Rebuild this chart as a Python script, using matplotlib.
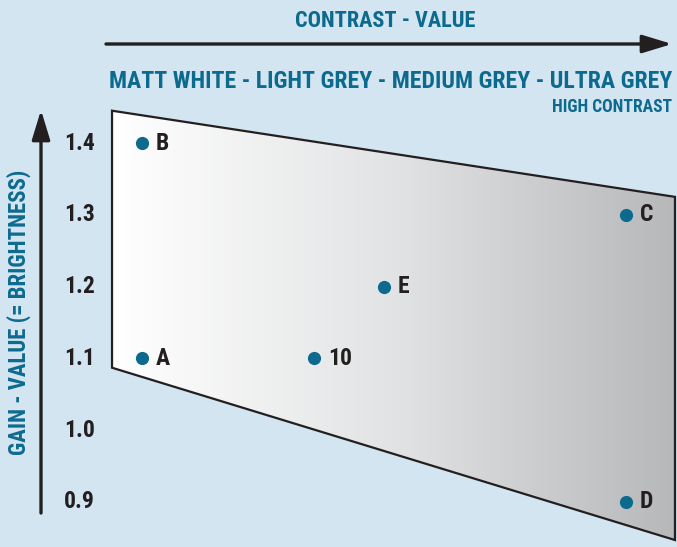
import matplotlib
matplotlib.use("Agg")
import matplotlib.pyplot as plt
import numpy as np
from matplotlib.patches import Polygon

# screen types, left (matt white) to right (ultra grey) on the contrast axis
NAMES   = ["B", "A", "10", "E", "C", "D"]
CONTR   = [0.053, 0.053, 0.359, 0.483, 0.913, 0.913]
GAIN    = [1.40, 1.10, 1.10, 1.20, 1.30, 0.90]
YTICKS  = [1.4, 1.3, 1.2, 1.1, 1.0, 0.9]
# the grey band: corners (contrast, gain)
BAND_X  = [0.0, 1.0, 1.0, 0.0]
BAND_Y  = [1.445, 1.325, 0.847, 1.087]

BG    = "#d3e5f0"
BLUE  = "#0d6a8f"
DARK  = "#231f20"
plt.rcParams["font.family"] = ["Roboto Condensed", "Open Sans Condensed", "Liberation Sans", "DejaVu Sans"]
plt.rcParams["font.weight"] = "bold"
plt.rcParams["font.stretch"] = "condensed"

fig = plt.figure(figsize=(6.77, 5.47), dpi=100, facecolor=BG)
ax = fig.add_axes([0, 0, 1, 1])
ax.set_facecolor(BG)
ax.set_xlim(-0.199, 1.0036)
ax.set_ylim(0.8373, 1.5992)
ax.axis("off")
R = fig.canvas.get_renderer()

def fit(t, width):
    # shrink/grow a text so it spans `width` pixels (the reference uses a condensed face)
    bb = t.get_window_extent(R)
    w = bb.height if t.get_rotation() else bb.width
    t.set_fontsize(t.get_fontsize() * width / w)

# gradient band white -> grey, clipped to the trapezoid
poly = Polygon(list(zip(BAND_X, BAND_Y)), closed=True, fc="none", ec=DARK, lw=1.6, zorder=3)
ax.add_patch(poly)
grad = np.linspace(0, 1, 256)[None, :]
cmap = matplotlib.colors.LinearSegmentedColormap.from_list("g", ["#ffffff", "#e2e3e4", "#b7b8ba"])
im = ax.imshow(grad, cmap=cmap, aspect="auto", extent=(0, 1, min(BAND_Y), max(BAND_Y)), zorder=2)
im.set_clip_path(poly)

# points + labels
ax.plot(CONTR, GAIN, "o", color=BLUE, ms=9.5, mec="none", zorder=4)
for n, x, y in zip(NAMES, CONTR, GAIN):
    ax.annotate(n, (x, y), xytext=(10, 0), textcoords="offset points", va="center", ha="left",
                fontsize=17, color=DARK, zorder=5)

# y tick labels
for v in YTICKS:
    ax.text(-0.030, v, f"{v:.1f}", ha="right", va="center", fontsize=17, color=DARK)

# axis arrows (figure pixel coords)
arr = dict(arrowstyle="-|>,head_length=1.8,head_width=0.55", color=DARK, lw=2.4, shrinkA=0, shrinkB=0)
ax.annotate("", xy=(672, 547 - 44), xytext=(106, 547 - 44), xycoords="figure pixels",
            textcoords="figure pixels", arrowprops=arr)
ax.annotate("", xy=(41, 547 - 110), xytext=(41, 547 - 513), xycoords="figure pixels",
            textcoords="figure pixels", arrowprops=arr)

# titles
t1 = fig.text(385 / 677, 1 - 21 / 547, "CONTRAST - VALUE", ha="center", va="center", fontsize=19, color=BLUE)
t2 = fig.text(672 / 677, 1 - 81 / 547, "MATT WHITE - LIGHT GREY - MEDIUM GREY - ULTRA GREY",
              ha="right", va="center", fontsize=21, color=BLUE)
t3 = fig.text(672 / 677, 1 - 107 / 547, "HIGH CONTRAST", ha="right", va="center", fontsize=13, color=BLUE)
t4 = fig.text(19 / 677, 1 - 312 / 547, "GAIN - VALUE (= BRIGHTNESS)", ha="center", va="center",
              rotation=90, fontsize=17, color=BLUE)
for t, w in [(t1, 180), (t2, 562), (t3, 120), (t4, 285)]:
    fit(t, w)

fig.savefig("out.png", dpi=100, facecolor=BG)
